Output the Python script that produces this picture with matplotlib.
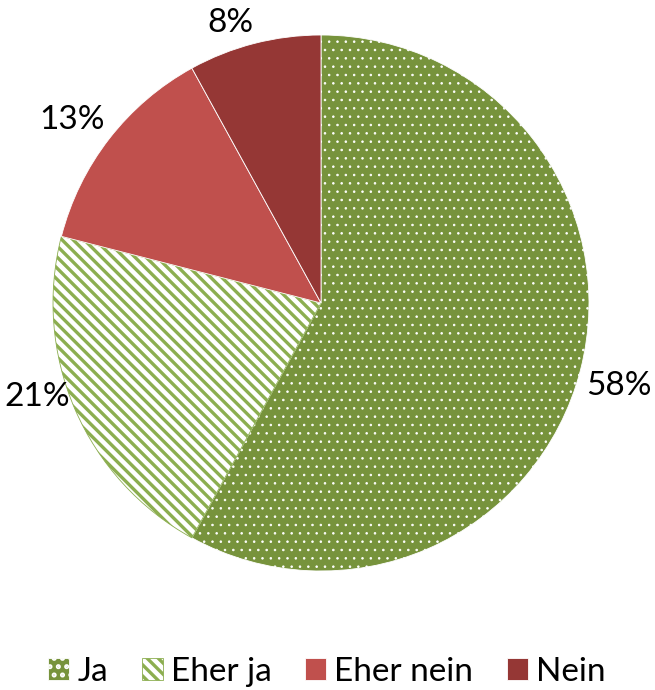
import matplotlib.pyplot as plt
import numpy as np

plt.rcParams['font.family'] = ['Lato', 'DejaVu Sans']
plt.rcParams['hatch.linewidth'] = 2.4

categories = ['Ja', 'Eher ja', 'Eher nein', 'Nein']
values = [58, 21, 13, 8]
faces = ['#77933C', 'white', '#C0504D', '#953735']
edges = ['white', '#8CAE50', 'white', 'white']
hatches = ['..', '\\\\\\', None, None]
hatch_lw = [0.6, 2.4, 1.0, 1.0]
# label alignment next to the pie edge (Excel "outside end" style)
label_ha = ['left', 'right', 'right', 'right']
label_va = ['top', 'bottom', 'bottom', 'bottom']

fig = plt.figure(figsize=(6.55, 6.9), dpi=100)
ax = fig.add_axes([53 / 655, 119 / 690, 536 / 655, 536 / 690])

wedges, _ = ax.pie(values, startangle=90, counterclock=False, radius=1,
                   wedgeprops=dict(linewidth=0.6))
for w, fc, ec, h, hl in zip(wedges, faces, edges, hatches, hatch_lw):
    w.set_facecolor(fc)
    w.set_edgecolor(ec)
    if h:
        w.set_hatch(h)
        if hasattr(w, 'set_hatch_linewidth'):
            w.set_hatch_linewidth(hl)
        else:
            w._hatch_linewidth = hl

total = sum(values)
for w, v, ha, va in zip(wedges, values, label_ha, label_va):
    ang = np.deg2rad((w.theta1 + w.theta2) / 2)
    ax.text(1.02 * np.cos(ang), 1.02 * np.sin(ang), '%d%%' % round(100 * v / total),
            ha=ha, va=va, fontsize=24, color='black')

ax.set_xlim(-1, 1)
ax.set_ylim(-1, 1)

fig.legend(wedges, categories, loc='center', ncol=4, frameon=False,
           fontsize=24, bbox_to_anchor=(0.499, 0.026), handlelength=0.63,
           handleheight=0.63, handletextpad=0.25, columnspacing=1.0)

fig.savefig('out.png', dpi=100)
